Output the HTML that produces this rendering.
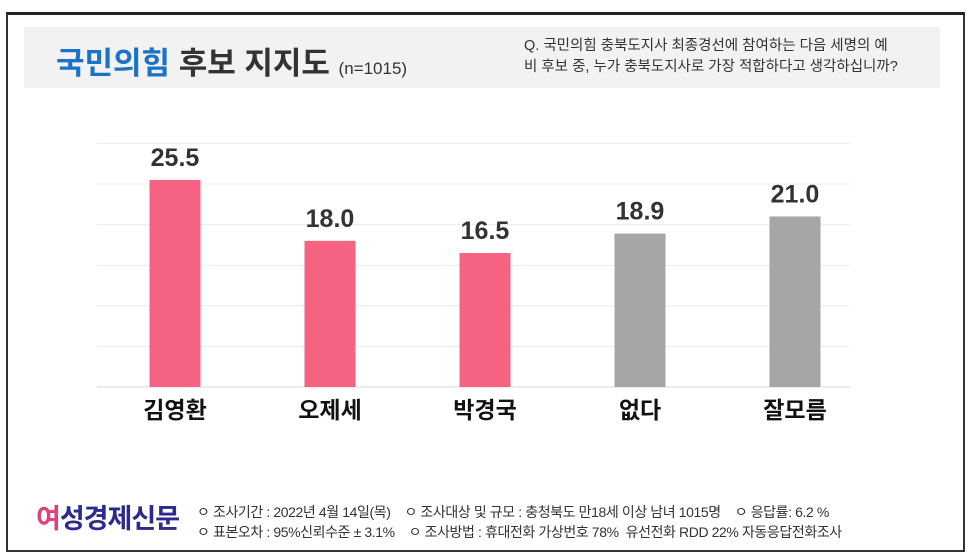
<!DOCTYPE html>
<html><head><meta charset="utf-8"><style>
body{margin:0;width:969px;height:556px;background:#fff;overflow:hidden;font-family:"Liberation Sans","Noto Sans CJK KR",sans-serif}
#frame{position:absolute;left:6px;top:12px;width:955px;height:535px;border:2px solid #333;border-top:3px solid #222;}
#hdr{position:absolute;left:24px;top:27px;width:916px;height:61px;background:#f2f2f2}
</style></head><body>
<div id="frame"></div>
<div id="hdr">
<div style="position:absolute;left:32px;top:11px;font-size:31px;font-weight:bold;color:#333;white-space:nowrap"><span style="color:#1a73c4">국민의힘</span> 후보 지지도 <span style="font-size:17px;font-weight:normal">(n=1015)</span></div>
<div style="position:absolute;left:500px;top:9px;font-size:14.5px;line-height:21px;color:#333;white-space:nowrap">Q. 국민의힘 충북도지사 최종경선에 참여하는 다음 세명의 예<br>비 후보 중, 누가 충북도지사로 가장 적합하다고 생각하십니까?</div>
</div>
<svg id="chart" width="969" height="556" style="position:absolute;left:0;top:0"></svg>
<div style="position:absolute;left:36px;top:497px;font-size:27px;font-weight:bold;color:#2c2a8c;letter-spacing:-1px;white-space:nowrap"><span style="color:#e0407a">여</span>성경제신문</div>
<div style="position:absolute;left:197px;top:502px;font-size:14px;line-height:20px;color:#333;letter-spacing:-0.4px;white-space:pre">ㅇ 조사기간 : 2022년 4월 14일(목)    ㅇ 조사대상 및 규모 : 충청북도 만18세 이상 남녀 1015명    ㅇ 응답률: 6.2 %
ㅇ 표본오차 : 95%신뢰수준 ± 3.1%    ㅇ 조사방법 : 휴대전화 가상번호 78%  유선전화 RDD 22% 자동응답전화조사</div>
<script>
const categories=["김영환","오제세","박경국","없다","잘모름"];
const values=[25.5,18.0,16.5,18.9,21.0];
const colors=["#f56282","#f56282","#f56282","#a6a6a6","#a6a6a6"];
const ticks=[0,5,10,15,20,25,30];
const svg=document.getElementById('chart');const NS="http://www.w3.org/2000/svg";
const y0=387,scale=8.12,x0=175,step=155,bw=51;
const y=v=>y0-v*scale, x=i=>x0+i*step;
function mk(t,a){const e=document.createElementNS(NS,t);for(const k in a)e.setAttribute(k,a[k]);svg.appendChild(e);return e;}
ticks.forEach(t=>{const l=mk('line',{x1:97,x2:850,y1:y(t),y2:y(t),stroke:t===0?'#d9d9d9':'#ececec','stroke-width':1});

});
values.forEach((v,i)=>{
const r=mk('rect',{x:x(i)-bw/2,y:y(v),width:bw,height:v*scale,fill:colors[i]});


const t=mk('text',{x:x(i),y:y(v)-14,'text-anchor':'middle','font-size':25,'font-weight':'bold',fill:'#333'});
t.textContent=v.toFixed(1);


const c=mk('text',{x:x(i),y:418,'text-anchor':'middle','font-size':23,'font-weight':'bold',fill:'#111'});
c.textContent=categories[i];


});
</script>
</body></html>
